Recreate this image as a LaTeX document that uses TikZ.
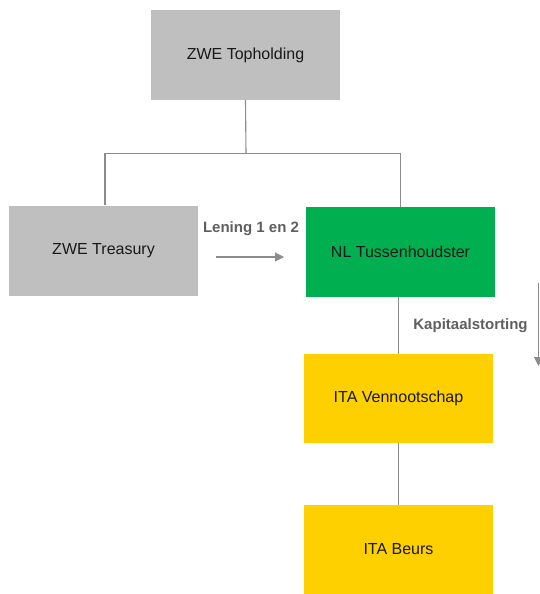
\documentclass[tikz,border=0pt]{standalone}
\usepackage{fontspec}
\setmainfont{Liberation Sans}
\usetikzlibrary{arrows.meta}
\definecolor{boxgray}{HTML}{BFBFBF}
\definecolor{boxgreen}{HTML}{00B050}
\definecolor{boxyellow}{HTML}{FFD000}
\definecolor{linegray}{HTML}{8C8C8C}
\definecolor{labelgray}{HTML}{5F5F5F}
\begin{document}
\begin{tikzpicture}[x=1pt,y=-1pt,
  entity/.style={minimum width=189pt,minimum height=90pt,inner sep=0pt,
    text=black!90,font=\fontsize{16}{19}\selectfont},
  link/.style={draw=linegray,line width=1.1pt},
  flow/.style={draw=linegray,line width=1.1pt,-{Triangle[length=9pt,width=9pt]}},
  flowlabel/.style={text=labelgray,font=\bfseries\fontsize{15}{18}\selectfont}]
\useasboundingbox (0,0) rectangle (540,594);
\begin{scope}
\clip (0,0) rectangle (540,594);
% entities
\node[entity,fill=boxgray] (top) at (245.5,55) {ZWE Topholding};
\node[entity,fill=boxgray] (treasury) at (103.5,250.5) {ZWE Treasury};
\node[entity,fill=boxgreen] (nl) at (400.5,252) {NL Tussenhoudster};
\node[entity,fill=boxyellow,minimum height=89pt] (itav) at (398.5,398.5) {ITA Vennootschap};
\node[entity,fill=boxyellow,minimum height=89pt] (itab) at (398.5,549.5) {ITA Beurs};
% ownership lines
\coordinate (split) at (246,153.5);
\draw[link] (top.south) -- (split);
\draw[link] (split) -| (treasury.north -| 105,0);
\draw[link] (split) -| (nl.north);
\draw[link] (nl.south -| itav.north) -- (itav.north);
\draw[link] (itav.south) -- (itab.north);
% loan flow
\coordinate (loanA) at (216,257);
\coordinate (loanB) at (284,257);
\draw[flow] (loanA) -- (loanB);
\node[flowlabel] (loanlbl) at (251,229) {Lening 1 en 2};
% capital contribution flow
\coordinate (capA) at (538.5,283);
\coordinate (capB) at (538.5,366);
\draw[flow] (capA) -- (capB);
\node[flowlabel] (caplbl) at (470.5,326) {Kapitaalstorting};
\end{scope}
\end{tikzpicture}
\end{document}
